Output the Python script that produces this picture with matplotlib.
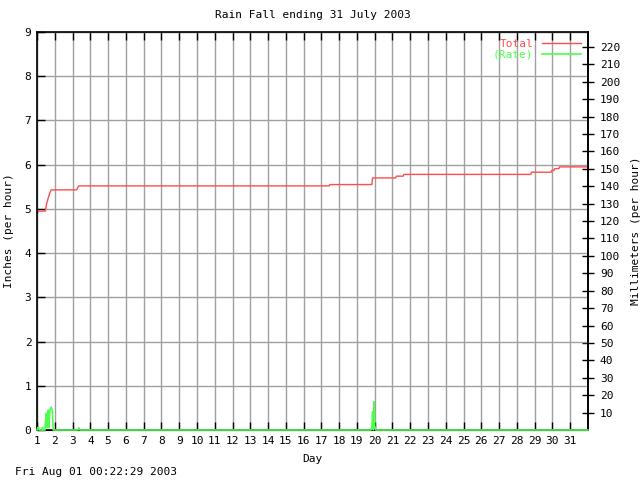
import matplotlib
matplotlib.use("Agg")
import matplotlib.pyplot as plt

# accumulated rain (inches) -- day of month vs total
total_days = [1.0, 1.1, 1.15, 1.47, 1.53, 1.6, 1.67, 1.74, 1.8, 3.23, 3.34,
              17.44, 17.48, 19.84, 19.88, 21.18, 21.22, 21.6, 21.64,
              28.78, 28.82, 29.93, 29.97, 30.08, 30.12, 30.36, 30.4, 32.0]
total_vals = [4.89, 4.95, 4.95, 4.95, 5.1, 5.2, 5.3, 5.38, 5.43, 5.43, 5.52,
              5.52, 5.55, 5.55, 5.70, 5.70, 5.74, 5.74, 5.78,
              5.78, 5.83, 5.83, 5.87, 5.87, 5.91, 5.91, 5.95, 5.95]

# rain rate (inches per hour)
rate_days = [1.0, 1.06, 1.09, 1.12, 1.2, 1.28, 1.31, 1.34, 1.45, 1.49, 1.53,
             1.58, 1.63, 1.67, 1.72, 1.8, 1.86, 1.92, 3.3, 3.36, 3.42,
             19.78, 19.84, 19.88, 19.92, 19.96, 20.0, 20.06, 32.0]
rate_vals = [0.0, 0.06, 0.06, 0.0, 0.0, 0.0, 0.06, 0.0, 0.0, 0.25, 0.38,
             0.05, 0.45, 0.05, 0.45, 0.52, 0.44, 0.0, 0.0, 0.05, 0.0,
             0.0, 0.05, 0.41, 0.0, 0.64, 0.1, 0.0, 0.0]

day_ticks = list(range(1, 32))
inch_ticks = list(range(0, 10))
mm_ticks = list(range(10, 230, 10))

red = '#ff4c4c'
green = '#4cff4c'
plt.rcParams['font.family'] = 'DejaVu Sans Mono'
plt.rcParams['font.size'] = 8

fig = plt.figure(figsize=(6.4, 4.8), dpi=100)
ax = fig.add_axes([37 / 640, 50 / 480, 551 / 640, 398 / 480])

ax2 = ax.twinx()
ax2.set_ylim(0, 9 * 25.4)
ax2.set_yticks(mm_ticks)
ax2.tick_params(direction='inout', length=9, width=1, pad=4)
ax2.set_ylabel('Millimeters (per hour)', labelpad=8)
ax2.spines['right'].set_linewidth(1.2)

# keep the inch axes (and its lines) on top of the twin
ax.set_zorder(ax2.get_zorder() + 1)
ax.patch.set_visible(False)

ax.plot(total_days, total_vals, color=red, lw=1, label='Total')
ax.plot(rate_days, rate_vals, color=green, lw=1.2, label='(Rate)', clip_on=False, zorder=5)

ax.set_xlim(1, 32)
ax.set_ylim(0, 9)
ax.set_xticks(day_ticks)
ax.set_yticks(inch_ticks)
ax.grid(True, color='#a0a0a0', lw=1)
ax.tick_params(direction='in', length=6, width=1, top=True, colors='black', pad=4)
for s in ax.spines.values():
    s.set_linewidth(1.2)

ax.set_xlabel('Day', labelpad=6)
ax.set_ylabel('Inches (per hour)', labelpad=8)
ax.set_title('Rain Fall ending 31 July 2003', fontsize=8, pad=10)

leg = ax.legend(loc='upper right', frameon=False, markerfirst=False,
                handlelength=3.5, handletextpad=0.8, labelspacing=0.1,
                borderaxespad=0.2, fontsize=8)
for txt, col in zip(leg.get_texts(), [red, green]):
    txt.set_color(col)

fig.text(15 / 640, 1 - 472 / 480, 'Fri Aug 01 00:22:29 2003', va='center', ha='left')

fig.savefig('out.png', dpi=100)
